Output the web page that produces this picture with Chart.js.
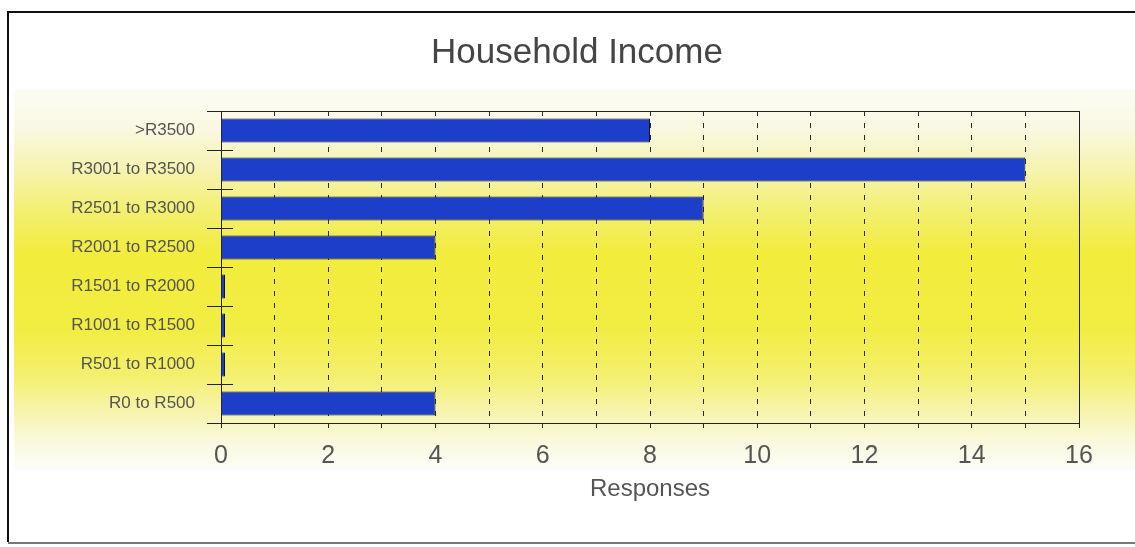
<!DOCTYPE html>
<html>
<head>
<meta charset="utf-8">
<title>Household Income</title>
<script src="https://cdn.jsdelivr.net/npm/chart.js@4.4.1/dist/chart.umd.min.js"></script>
<style>
  html, body { margin: 0; padding: 0; background: #fff; }
  #wrap { width: 1135px; height: 547px; }
</style>
</head>
<body>
<div id="wrap"><canvas id="income"></canvas></div>
<script>
    // income bands, listed top to bottom as they appear on the axis
    const incomeBands = ['>R3500', 'R3001 to R3500', 'R2501 to R3000', 'R2001 to R2500',
        'R1501 to R2000', 'R1001 to R1500', 'R501 to R1000', 'R0 to R500'];
    const responses = [8, 15, 9, 4, 0, 0, 0, 4];
    const xMax = 16;
    const chartTitle = 'Household Income';

    // the frame, the yellow band behind the plot and the heading
    const backdrop = {
        id: 'backdrop',
        beforeDraw(chart) {
            const ctx = chart.ctx;
            ctx.save();
            const g = ctx.createLinearGradient(0, 90, 0, 470);
            g.addColorStop(0, '#fcfcf4');
            g.addColorStop(0.1, '#faf8e2');
            g.addColorStop(0.21, '#f6f3b0');
            g.addColorStop(0.32, '#f3ef70');
            g.addColorStop(0.43, '#f2ec3c');
            g.addColorStop(0.63, '#f2ed42');
            g.addColorStop(0.76, '#f4f072');
            g.addColorStop(0.85, '#f7f4b0');
            g.addColorStop(0.93, '#faf9e0');
            g.addColorStop(1, '#fdfdf8');
            ctx.fillStyle = g;
            ctx.fillRect(14, 90, 1121, 380);

            ctx.strokeStyle = '#111';
            ctx.lineWidth = 2;
            ctx.beginPath();
            ctx.moveTo(1135, 12);
            ctx.lineTo(8, 12);
            ctx.lineTo(8, 542);
            ctx.stroke();
            ctx.strokeStyle = '#777';
            ctx.beginPath();
            ctx.moveTo(8, 543);
            ctx.lineTo(1135, 543);
            ctx.stroke();

            ctx.fillStyle = '#454545';
            ctx.font = '35px "Liberation Sans", Arial, sans-serif';
            ctx.textAlign = 'center';
            ctx.textBaseline = 'middle';
            ctx.fillText(chartTitle, 577, 53);
            ctx.restore();
        },
        beforeDatasetsDraw(chart) {
            const {ctx, chartArea: a} = chart;
            ctx.save();
            ctx.strokeStyle = '#222';
            ctx.lineWidth = 1;
            ctx.strokeRect(a.left + 0.5, a.top + 0.5, a.right - a.left, a.bottom - a.top);
            // category ticks reach a little into the plot
            ctx.beginPath();
            for (let i = 0; i <= incomeBands.length; i++) {
                const py = Math.round(a.top + i * (a.bottom - a.top) / incomeBands.length) + 0.5;
                ctx.moveTo(a.left, py);
                ctx.lineTo(a.left + 12, py);
            }
            ctx.stroke();
            ctx.restore();
        }
    };

    const ctx = document.getElementById('income');
    new Chart(ctx, {
        type: 'bar',
        data: {
            labels: incomeBands,
            datasets: [{
                label: 'Responses',
                data: responses,
                backgroundColor: '#1d3ec9',
                borderColor: '#0b1040',
                borderWidth: 1,
                minBarLength: 4,
                barPercentage: 0.62,
                categoryPercentage: 1
            }]
        },
        options: {
            indexAxis: 'y',
            responsive: true,
            maintainAspectRatio: false,
            animation: false,
            layout: { padding: { top: 111, left: 10, right: 56, bottom: 43 } },
            plugins: {
                legend: { display: false },
                tooltip: { enabled: false },
                title: { display: false }
            },
            scales: {
                x: {
                    min: 0,
                    max: xMax,
                    afterFit(scale) { scale.height = 81; },
                    ticks: {
                        stepSize: 1,
                        padding: 13,
                        color: '#555',
                        font: { family: 'Liberation Sans, Arial, sans-serif', size: 25 },
                        callback: (v) => (v % 2 === 0 ? v : '')
                    },
                    grid: {
                        color: '#2a2a2a',
                        lineWidth: 1,
                        tickLength: 5,
                        tickBorderDash: []
                    },
                    border: { display: true, color: '#222', width: 1, dash: [5, 7] },
                    title: {
                        display: true,
                        text: 'Responses',
                        color: '#555',
                        padding: 0,
                        font: { family: 'Liberation Sans, Arial, sans-serif', size: 24 }
                    }
                },
                y: {
                    afterFit(scale) { scale.width = 211; },
                    ticks: {
                        padding: 12,
                        color: '#555',
                        font: { family: 'Liberation Sans, Arial, sans-serif', size: 17 }
                    },
                    grid: {
                        drawOnChartArea: false,
                        color: '#222',
                        tickLength: 14
                    },
                    border: { display: true, color: '#222', width: 1 }
                }
            }
        },
        plugins: [backdrop]
    });
</script>
</body>
</html>
